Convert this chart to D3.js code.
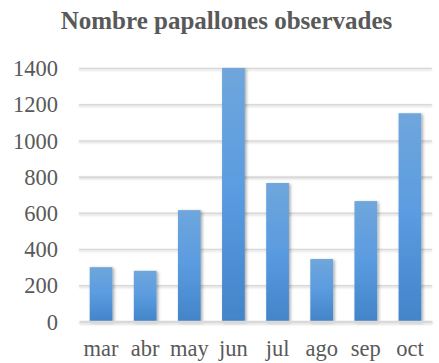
<!DOCTYPE html>
<html>
<head>
<meta charset="utf-8">
<script src="https://cdn.jsdelivr.net/npm/d3@7"></script>
<style>
  html, body { margin: 0; padding: 0; background: #fff; }
  svg { display: block; }
</style>
</head>
<body>
<script>
// Monthly butterfly counts
const months = ["mar", "abr", "may", "jun", "jul", "ago", "sep", "oct"];
const counts = [300, 280, 615, 1400, 765, 345, 665, 1150];
const yTicks = [0, 200, 400, 600, 800, 1000, 1200, 1400];
const title = "Nombre papallones observades";

const W = 439, H = 363;
const plot = { left: 79, right: 432, top: 68, bottom: 321.5 };
const textColor = "#595959";
const font = "'Liberation Serif', 'Times New Roman', serif";

const svg = d3.select("body").append("svg")
  .attr("width", W).attr("height", H);

const defs = svg.append("defs");

const grad = defs.append("linearGradient")
  .attr("id", "barFill").attr("x1", 0).attr("y1", 0).attr("x2", 0).attr("y2", 1);
grad.append("stop").attr("offset", "0%").attr("stop-color", "#6fa6dc");
grad.append("stop").attr("offset", "50%").attr("stop-color", "#5a9be0");
grad.append("stop").attr("offset", "100%").attr("stop-color", "#4384c8");

const shadow = defs.append("filter").attr("id", "barShadow")
  .attr("x", "-40%").attr("y", "-10%").attr("width", "180%").attr("height", "120%");
shadow.append("feDropShadow")
  .attr("dx", 1.5).attr("dy", 1).attr("stdDeviation", 1.8)
  .attr("flood-color", "#000").attr("flood-opacity", 0.35);

// Horizontal lines have an empty bounding-box height, so the shadow region is in user space
const lineShadow = defs.append("filter").attr("id", "lineShadow")
  .attr("filterUnits", "userSpaceOnUse")
  .attr("x", -100).attr("y", -20).attr("width", W + 200).attr("height", H + 40);
lineShadow.append("feDropShadow")
  .attr("dx", 0).attr("dy", 1).attr("stdDeviation", 0.8)
  .attr("flood-color", "#000").attr("flood-opacity", 0.18);

const x = d3.scaleBand()
  .domain(months)
  .range([plot.left, plot.right])
  .paddingInner(0.485)
  .paddingOuter(0.2425);

const y = d3.scaleLinear()
  .domain([0, 1400])
  .range([plot.bottom, plot.top]);

// Title
svg.append("text")
  .attr("x", 226.5).attr("y", 29)
  .attr("text-anchor", "middle")
  .style("font-family", font)
  .style("font-weight", "bold")
  .style("font-size", "25px")
  .attr("fill", textColor)
  .text(title);

// Gridlines and value labels
const yAxis = d3.axisLeft(y).tickValues(yTicks).tickFormat(d3.format("d"))
  .tickSize(-(plot.right - plot.left)).tickPadding(21);
const gy = svg.append("g")
  .attr("transform", `translate(${plot.left},0)`)
  .call(yAxis)
  .style("font-family", font).style("font-size", "22.5px");
gy.select(".domain").remove();
gy.selectAll(".tick line")
  .attr("stroke", "#d9d9d9").attr("stroke-width", 1.6)
  .attr("filter", "url(#lineShadow)");
gy.selectAll(".tick text")
  .attr("fill", textColor).attr("dy", "0.34em");
gy.selectAll(".tick").filter(d => d === 0).select("line").remove();

// Bars
svg.append("g").selectAll("rect")
  .data(months.map((m, i) => ({ m, v: counts[i] })))
  .join("rect")
  .attr("x", d => x(d.m))
  .attr("y", d => y(d.v))
  .attr("width", x.bandwidth())
  .attr("height", d => y(0) - y(d.v))
  .attr("fill", "url(#barFill)")
  .attr("filter", "url(#barShadow)");

// Category axis
const xAxis = d3.axisBottom(x).tickSize(0).tickPadding(19);
const gx = svg.append("g")
  .attr("transform", `translate(0,${plot.bottom})`)
  .call(xAxis)
  .style("font-family", font).style("font-size", "22.5px");
gx.select(".domain")
  .attr("stroke", "#d9d9d9").attr("stroke-width", 2.5)
  .attr("filter", "url(#lineShadow)");
gx.selectAll(".tick text")
  .attr("fill", textColor);
</script>
</body>
</html>
